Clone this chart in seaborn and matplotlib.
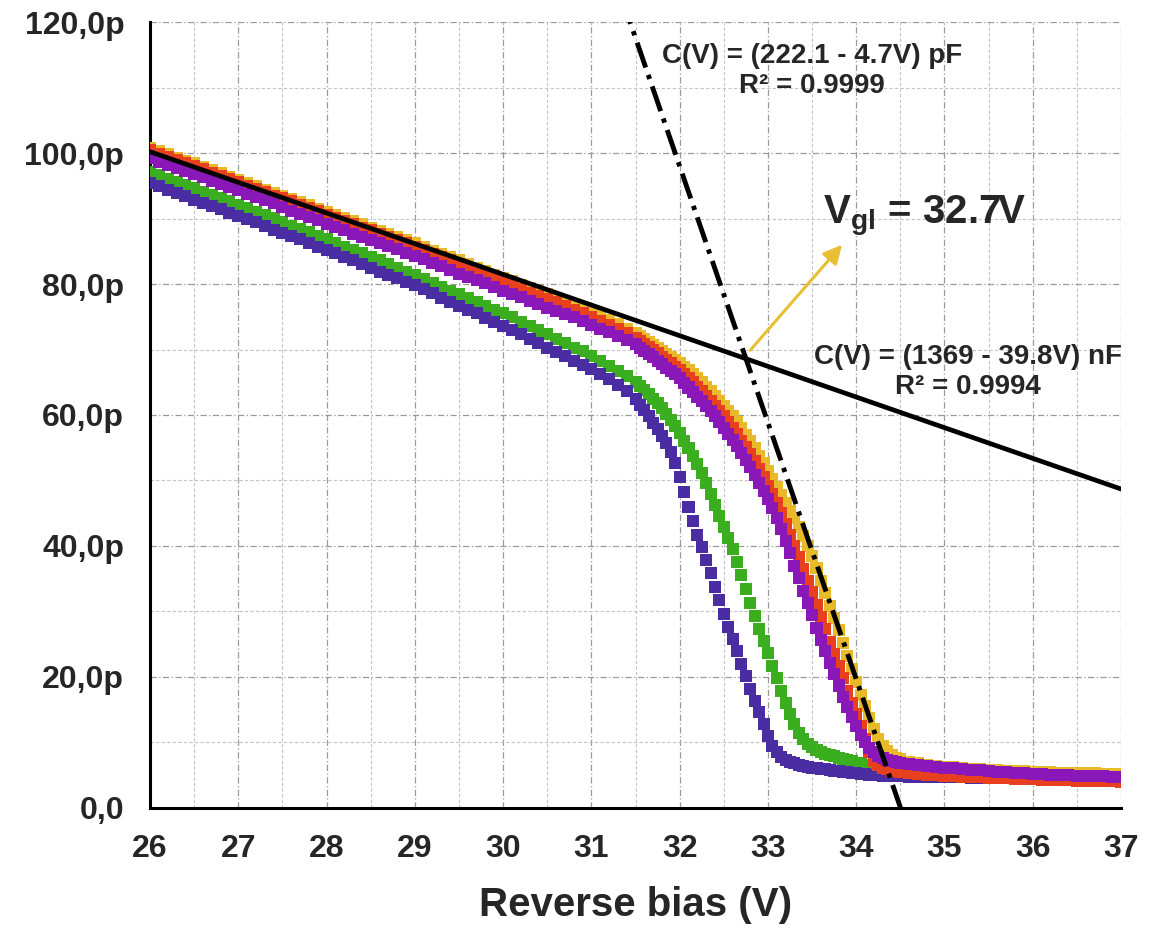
import matplotlib
matplotlib.use('Agg')
import matplotlib.pyplot as plt
import seaborn as sns
import numpy as np
import pandas as pd
from matplotlib.ticker import MultipleLocator

sns.set_style("white")
plt.rcParams['font.family'] = ['Liberation Sans', 'DejaVu Sans']
plt.rcParams['font.weight'] = 'bold'
plt.rcParams['axes.labelweight'] = 'bold'
plt.rcParams['mathtext.fontset'] = 'custom'
plt.rcParams['mathtext.bf'] = 'Liberation Sans:bold'
plt.rcParams['mathtext.rm'] = 'Liberation Sans:bold'

# Bias sweep: 0.1 V steps, 0.05 V steps through the depletion knee
volts = np.round(np.concatenate([np.arange(26.0, 31.45, 0.1),
                                 np.arange(31.5, 34.475, 0.05),
                                 np.arange(34.5, 37.05, 0.1)]), 2)

# Capacitance readings (pF) per sample
indigo = [
    95.4, 94.9, 94.4, 93.9, 93.4, 92.9, 92.4, 91.9, 91.4, 90.9,
    90.4, 89.9, 89.4, 88.8, 88.3, 87.8, 87.3, 86.8, 86.2, 85.7,
    85.2, 84.7, 84.1, 83.6, 83.0, 82.5, 81.9, 81.4, 80.9, 80.3,
    79.8, 79.2, 78.6, 77.9, 77.3, 76.7, 76.1, 75.5, 74.8, 74.2,
    73.6, 73.0, 72.3, 71.6, 71.0, 70.3, 69.6, 69.0, 68.3, 67.7,
    67.0, 66.3, 65.5, 64.6, 63.6,
    62.5, 61.6, 60.7, 59.8, 58.8, 57.8, 56.8, 55.7, 54.4, 52.6,
    50.6, 48.3, 46.0, 43.8, 41.7, 39.8, 37.9, 35.9, 33.8, 31.7,
    29.6, 27.7, 25.8, 23.9, 22.0, 20.1, 18.2, 16.4, 14.6, 12.8,
    11.0, 9.5, 8.5, 7.8, 7.3, 7.0, 6.8, 6.6, 6.4, 6.3,
    6.15, 6.05, 5.95, 5.9, 5.8, 5.7, 5.6, 5.55, 5.45, 5.4,
    5.3, 5.25, 5.2, 5.1, 5.05, 5.0, 4.95, 4.9, 4.9, 4.85,
    4.85, 4.8, 4.8, 4.75, 4.75, 4.7, 4.7, 4.7, 4.65, 4.65,
    4.6, 4.6, 4.6, 4.6, 4.55, 4.55, 4.55, 4.5, 4.5, 4.5,
    4.5, 4.5, 4.45, 4.45, 4.45, 4.45,
]
green = [
    97.1, 96.6, 96.1, 95.6, 95.1, 94.6, 94.1, 93.6, 93.1, 92.6,
    92.1, 91.6, 91.0, 90.5, 90.0, 89.5, 88.9, 88.4, 87.9, 87.3,
    86.8, 86.3, 85.7, 85.2, 84.7, 84.1, 83.6, 83.0, 82.5, 81.9,
    81.4, 80.8, 80.2, 79.6, 79.0, 78.4, 77.9, 77.3, 76.7, 76.1,
    75.5, 74.9, 74.2, 73.6, 72.9, 72.3, 71.6, 71.0, 70.3, 69.7,
    69.0, 68.3, 67.5, 66.7, 65.9,
    65.0, 64.4, 63.8, 63.2, 62.5, 61.8, 61.0, 60.2, 59.3, 58.3,
    57.2, 56.1, 55.0, 53.8, 52.5, 51.1, 49.6, 48.0, 46.3, 44.6,
    42.9, 41.2, 39.5, 37.5, 35.5, 33.4, 31.3, 29.3, 27.4, 25.5,
    23.6, 21.7, 19.8, 17.9, 16.0, 14.3, 12.8, 11.5, 10.5, 9.8,
    9.3, 8.9, 8.6, 8.3, 8.1, 7.9, 7.7, 7.5, 7.3, 7.1,
    6.9, 6.8, 6.6, 6.5, 6.4, 6.3, 6.2, 6.1, 6.0, 5.9,
    5.8, 5.7, 5.6, 5.5, 5.4, 5.35, 5.3, 5.25, 5.2, 5.15,
    5.1, 5.05, 5.0, 5.0, 4.95, 4.95, 4.9, 4.9, 4.85, 4.85,
    4.8, 4.8, 4.8, 4.75, 4.75, 4.75,
]
purple = [
    99.2, 98.7, 98.2, 97.7, 97.2, 96.8, 96.3, 95.8, 95.3, 94.8,
    94.3, 93.8, 93.3, 92.8, 92.3, 91.8, 91.2, 90.7, 90.2, 89.7,
    89.2, 88.7, 88.2, 87.7, 87.2, 86.7, 86.3, 85.8, 85.3, 84.8,
    84.3, 83.8, 83.2, 82.7, 82.2, 81.6, 81.1, 80.6, 80.1, 79.5,
    79.0, 78.5, 78.0, 77.4, 76.9, 76.4, 75.9, 75.4, 74.9, 74.3,
    73.8, 73.2, 72.6, 72.0, 71.4,
    70.8, 70.3, 69.8, 69.3, 68.8, 68.3, 67.8, 67.2, 66.7, 66.2,
    65.6, 64.9, 64.2, 63.5, 62.8, 62.1, 61.4, 60.6, 59.8, 58.9,
    58.0, 57.1, 56.2, 55.2, 54.2, 53.1, 52.0, 50.8, 49.6, 48.4,
    47.2, 45.8, 44.3, 42.6, 40.8, 38.9, 37.0, 35.1, 33.2, 31.3,
    29.4, 27.5, 25.7, 23.9, 22.1, 20.4, 18.7, 17.0, 15.4, 13.9,
    12.5, 11.2, 10.1, 9.2, 8.5, 8.0, 7.6, 7.35, 7.15, 7.0,
    6.85, 6.7, 6.55, 6.4, 6.3, 6.15, 6.05, 5.95, 5.85, 5.75,
    5.65, 5.55, 5.45, 5.4, 5.3, 5.25, 5.2, 5.1, 5.05, 5.0,
    4.95, 4.9, 4.9, 4.85, 4.8, 4.8,
]
red = [
    100.4, 99.9, 99.4, 98.9, 98.4, 98.0, 97.5, 97.0, 96.5, 96.0,
    95.5, 95.0, 94.5, 94.0, 93.5, 93.1, 92.6, 92.1, 91.6, 91.1,
    90.6, 90.1, 89.6, 89.1, 88.6, 88.2, 87.7, 87.2, 86.7, 86.2,
    85.7, 85.2, 84.6, 84.1, 83.6, 83.0, 82.5, 82.0, 81.4, 80.9,
    80.3, 79.8, 79.3, 78.7, 78.2, 77.7, 77.2, 76.6, 76.1, 75.6,
    75.0, 74.4, 73.8, 73.1, 72.5,
    71.8, 71.3, 70.8, 70.4, 69.9, 69.4, 68.9, 68.4, 67.9, 67.4,
    66.8, 66.2, 65.6, 65.0, 64.3, 63.6, 62.9, 62.2, 61.4, 60.6,
    59.8, 58.9, 58.0, 57.1, 56.1, 55.1, 54.0, 52.9, 51.7, 50.5,
    49.2, 47.9, 46.5, 45.0, 43.4, 41.7, 40.0, 38.3, 36.5, 34.7,
    32.9, 31.0, 29.2, 27.3, 25.4, 23.5, 21.6, 19.8, 17.9, 16.1,
    14.3, 12.5, 10.6, 8.6, 7.2, 6.5, 6.1, 5.9, 5.7, 5.6,
    5.5, 5.35, 5.2, 5.1, 5.0, 4.9, 4.85, 4.8, 4.75, 4.7,
    4.65, 4.6, 4.55, 4.5, 4.45, 4.4, 4.35, 4.3, 4.25, 4.2,
    4.15, 4.1, 4.1, 4.05, 4.05, 4.0,
]
gold = [
    100.8, 100.3, 99.8, 99.3, 98.8, 98.4, 97.9, 97.4, 96.9, 96.4,
    95.9, 95.4, 94.9, 94.4, 93.9, 93.5, 93.0, 92.5, 92.0, 91.5,
    91.0, 90.5, 90.0, 89.6, 89.1, 88.6, 88.1, 87.6, 87.2, 86.7,
    86.2, 85.7, 85.1, 84.6, 84.1, 83.6, 83.0, 82.5, 82.0, 81.4,
    80.9, 80.4, 79.9, 79.4, 78.9, 78.4, 77.8, 77.3, 76.8, 76.3,
    75.8, 75.2, 74.5, 73.9, 73.2,
    72.5, 72.0, 71.6, 71.1, 70.7, 70.2, 69.8, 69.3, 68.8, 68.4,
    67.9, 67.3, 66.8, 66.2, 65.6, 65.0, 64.3, 63.6, 62.9, 62.2,
    61.4, 60.6, 59.8, 58.9, 58.0, 57.0, 56.0, 54.9, 53.8, 52.6,
    51.4, 50.2, 49.0, 47.8, 46.6, 45.4, 44.2, 42.9, 41.5, 40.0,
    38.4, 36.6, 34.7, 32.8, 30.9, 29.0, 27.2, 25.2, 23.2, 21.2,
    19.2, 17.3, 15.5, 13.7, 12.0, 10.6, 9.5, 8.7, 8.1, 7.7,
    7.4, 7.0, 6.8, 6.6, 6.45, 6.3, 6.2, 6.1, 6.0, 5.9,
    5.8, 5.75, 5.7, 5.65, 5.6, 5.55, 5.5, 5.45, 5.4, 5.4,
    5.35, 5.3, 5.3, 5.25, 5.25, 5.2,
]

# drawing order: last one ends on top
samples = ["green", "indigo", "gold", "red", "purple"]
series = [green, indigo, gold, red, purple]
palette = {"indigo": "#4a2ca3", "green": "#3aae1f", "purple": "#8a17b8",
           "red": "#e8401e", "gold": "#e8b928"}

# linear fits, end points
flat_fit_v = [26.0, 37.0]
flat_fit_c = [100.2, 48.7]
steep_fit_v = [31.31, 34.63]
steep_fit_c = [125.0, -5.0]

arrow_tail = (32.80, 69.9)
arrow_head = (33.84, 86.0)

ytick_vals = [0, 20, 40, 60, 80, 100, 120]
ytick_labels = ["0,0", "20,0p", "40,0p", "60,0p", "80,0p", "100,0p", "120,0p"]
xtick_vals = list(range(26, 38))

df = pd.DataFrame({
    "bias": np.tile(volts, len(series)),
    "cap": np.concatenate([np.asarray(s) for s in series]),
    "sample": np.repeat(samples, len(volts)),
})

fig = plt.figure(figsize=(11.55, 9.33), dpi=100)
ax = fig.add_axes([0.1299, 0.1340, 0.8407, 0.8424])

sns.scatterplot(data=df, x="bias", y="cap", hue="sample", palette=palette,
                marker="s", s=75, linewidth=0, legend=False, ax=ax, zorder=3)

ax.plot(flat_fit_v, flat_fit_c, color="black", lw=3.4, zorder=5)
ax.plot(steep_fit_v, steep_fit_c, color="black", lw=3.5, zorder=6,
        linestyle=(0, (5.4, 1.6, 0.9, 1.6)), dash_capstyle="butt")

ax.annotate("", xy=arrow_head, xytext=arrow_tail,
            arrowprops=dict(arrowstyle="-|>", color="#e8be32", lw=2.2,
                            mutation_scale=28, shrinkA=0, shrinkB=0),
            zorder=7)

ax.text(33.50, 112.5, "C(V) = (222.1 - 4.7V) pF\nR\u00b2 = 0.9999",
        ha="center", va="center", multialignment="center",
        fontsize=20, fontweight="bold", zorder=8)
ax.text(35.27, 66.6, "C(V) = (1369 - 39.8V) nF\nR\u00b2 = 0.9994",
        ha="center", va="center", multialignment="center",
        fontsize=20, fontweight="bold", zorder=8)
ax.text(33.62, 89.3, r"V$_{\mathbf{gl}}$ = 32.7V", ha="left", va="baseline",
        fontsize=29, fontweight="bold", zorder=8)

ax.set_xlim(26, 37)
ax.set_ylim(0, 120)
ax.set_xticks(xtick_vals)
ax.set_yticks(ytick_vals, labels=ytick_labels)
ax.xaxis.set_minor_locator(MultipleLocator(0.5))
ax.yaxis.set_minor_locator(MultipleLocator(10))

ax.set_axisbelow(True)
ax.grid(which="major", color="#9a9a9a", linestyle=(0, (5, 2, 1, 2)), linewidth=0.9)
ax.grid(which="minor", color="#c4c4c4", linestyle=(0, (3, 2)), linewidth=0.8)

for side in ["top", "right"]:
    ax.spines[side].set_visible(False)
for side in ["left", "bottom"]:
    ax.spines[side].set_linewidth(2.2)
    ax.spines[side].set_color("black")

ax.tick_params(which="major", direction="out", length=10.5, width=2.2, pad=8,
               labelsize=23, color="black")
ax.tick_params(which="minor", direction="out", length=5, width=2.0, color="black")
for lab in ax.get_xticklabels() + ax.get_yticklabels():
    lab.set_fontweight("bold")

ax.set_xlabel("Reverse bias (V)", fontsize=29, fontweight="bold", labelpad=16)
ax.set_ylabel("")

fig.savefig("out.png", dpi=100)
